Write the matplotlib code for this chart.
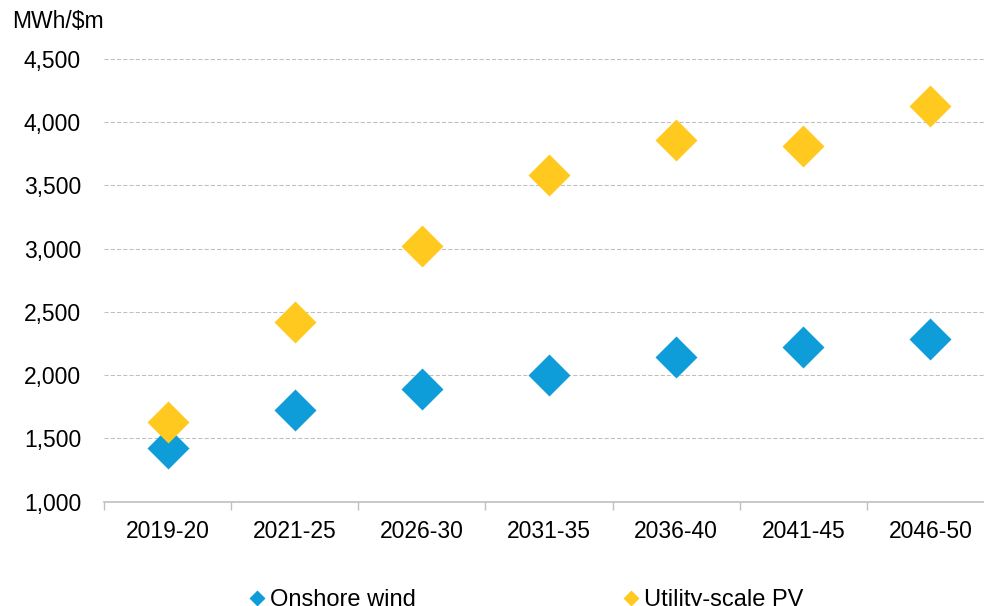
import matplotlib.pyplot as plt
from matplotlib.lines import Line2D
from matplotlib.ticker import FuncFormatter, FixedLocator

plt.rcParams['font.family'] = ['Liberation Sans', 'DejaVu Sans']

# 数据
periods = ["2019-20", "2021-25", "2026-30", "2031-35", "2036-40", "2041-45", "2046-50"]
onshore_wind = [1421, 1722, 1891, 2000, 2143, 2219, 2283]
utility_pv = [1627, 2421, 3024, 3579, 3857, 3810, 4127]

blue = "#0F9DD9"
yellow = "#FFC91F"
grid_grey = "#BFBFBF"

fig = plt.figure(figsize=(9.84, 6.06), dpi=100)
# 右侧略超出画布
ax = fig.add_axes([0.1057, 0.1724, 0.9045, 0.7302])

x = list(range(len(periods)))
ax.plot(x, onshore_wind, linestyle="none", marker="D", ms=21, color=blue, mec="none", zorder=3)
ax.plot(x, utility_pv, linestyle="none", marker="D", ms=21, color=yellow, mec="none", zorder=4)

ax.set_xlim(-0.5, len(periods) - 0.5)
ax.set_ylim(1000, 4500)
ax.set_yticks(range(1000, 4501, 500))
ax.yaxis.set_major_formatter(FuncFormatter(lambda v, p: f"{int(v):,}"))
ax.tick_params(axis="y", length=0, pad=16.5, labelsize=16.5)

ax.set_xticks(x)
ax.set_xticklabels(periods)
ax.tick_params(axis="x", which="major", length=0, pad=13, labelsize=16.5)
ax.xaxis.set_minor_locator(FixedLocator([i - 0.5 for i in range(len(periods) + 1)]))
ax.tick_params(axis="x", which="minor", length=6, width=1.0, color=grid_grey)

ax.grid(axis="y", color=grid_grey, linestyle=(0, (4, 2)), linewidth=0.75)
ax.set_axisbelow(True)
for s in ["left", "right", "top"]:
    ax.spines[s].set_visible(False)
ax.spines["bottom"].set_color(grid_grey)
ax.spines["bottom"].set_linewidth(1.2)
ax.spines["bottom"].set_zorder(2)

fig.text(12 / 984, 1 - 22 / 606, "MWh/$m", fontsize=16.5, va="center", ha="left")

handles = [
    Line2D([], [], linestyle="none", marker="D", ms=8.5, color=blue, mec="none"),
    Line2D([], [], linestyle="none", marker="D", ms=8.5, color=yellow, mec="none"),
]
fig.legend(handles, ["Onshore wind", "Utility-scale PV"], ncol=2, frameon=False,
           loc="center left", bbox_to_anchor=(238 / 984, 1 - 600 / 606),
           handlelength=0.6, handletextpad=0.25, columnspacing=8.8, borderpad=0,
           prop={"family": ["Liberation Sans Narrow", "Liberation Sans"], "size": 17})

fig.savefig("out.png", dpi=100)
